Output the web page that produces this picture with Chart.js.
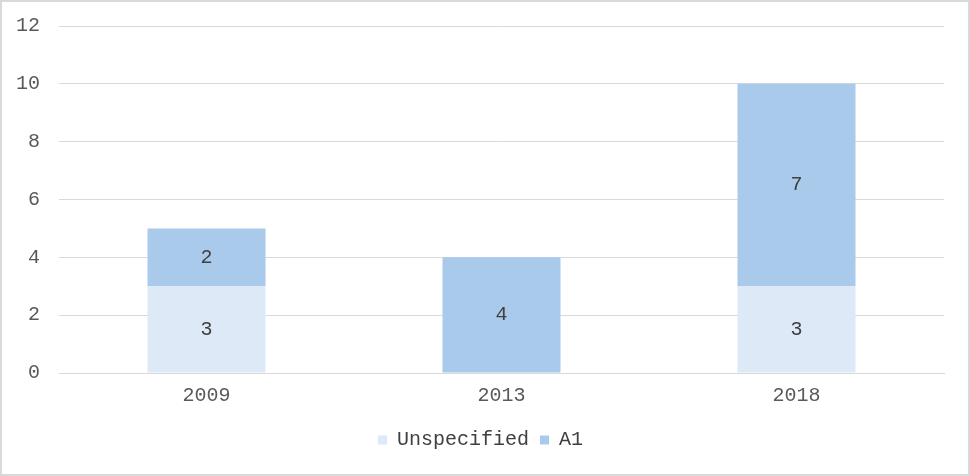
<!DOCTYPE html>
<html>
<head>
<meta charset="utf-8">
<script src="https://cdn.jsdelivr.net/npm/chart.js@4"></script>
<style>
  html, body { margin: 0; padding: 0; background: #fff; }
  #wrap { position: absolute; left: 0; top: 0; width: 966px; height: 472px; border: 2px solid #d9d9d9; }
</style>
</head>
<body>
<div id="wrap"><canvas id="chart" width="966" height="472"></canvas></div>
<script>
const years = ["2009", "2013", "2018"];
const unspecified = [3, 0, 3];
const a1 = [2, 4, 7];

// labels drawn in the middle of each bar segment
const barLabels = {
    id: "barLabels",
    afterDatasetsDraw(chart) {
        const ctx = chart.ctx;
        ctx.save();
        ctx.font = "20px 'Liberation Mono'";
        ctx.fillStyle = "#404040";
        ctx.textAlign = "center";
        ctx.textBaseline = "middle";
        chart.data.datasets.forEach((ds, i) => {
            chart.getDatasetMeta(i).data.forEach((bar, j) => {
                const v = ds.data[j];
                if (!v) return;
                ctx.fillText(String(v), bar.x, (bar.y + bar.base) / 2);
            });
        });
        ctx.restore();
    }
};

Chart.defaults.font.family = "'Liberation Mono', monospace";
Chart.defaults.font.size = 20;
Chart.defaults.color = "#595959";

new Chart(document.getElementById("chart"), {
    type: "bar",
    data: {
        labels: years,
        datasets: [
            { label: "Unspecified", data: unspecified, backgroundColor: "#dde9f6", categoryPercentage: 1, barPercentage: 0.4 },
            { label: "A1", data: a1, backgroundColor: "#a9caeb", categoryPercentage: 1, barPercentage: 0.4 }
        ]
    },
    options: {
        responsive: false,
        animation: false,
        layout: { padding: { left: 15, right: 24, top: 6, bottom: 14 } },
        scales: {
            x: {
                stacked: true,
                grid: { display: false, drawTicks: false },
                border: { color: "#d9d9d9" },
                ticks: { padding: 11 }
            },
            y: {
                stacked: true,
                min: 0, max: 12,
                ticks: { stepSize: 2, padding: 19 },
                grid: { color: "#d9d9d9", drawTicks: false },
                border: { display: false },
                afterFit(scale) {
                    scale.width = 42;
                    scale.paddingTop = 24;
                }
            }
        },
        plugins: {
            legend: {
                position: "bottom",
                labels: { boxWidth: 9, boxHeight: 9, padding: 11, color: "#404040" }
            },
            tooltip: { enabled: false }
        }
    },
    plugins: [barLabels]
});
</script>
</body>
</html>
